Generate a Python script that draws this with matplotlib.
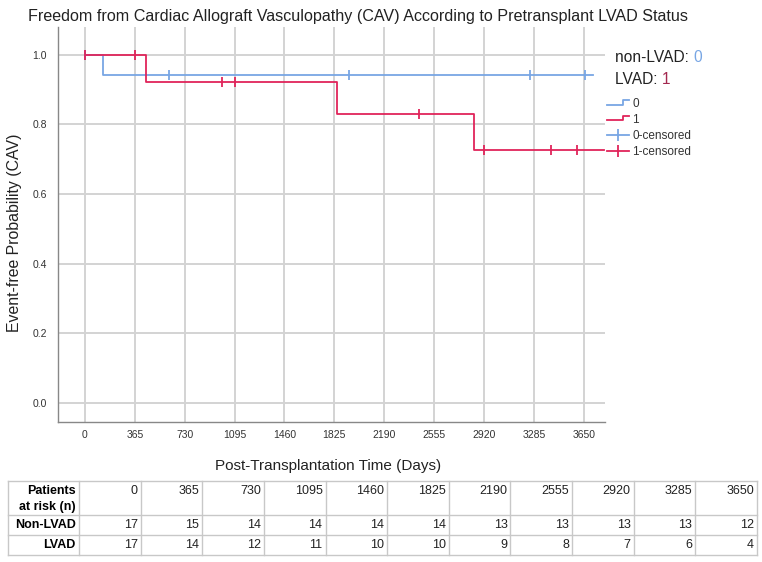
import numpy as np
import matplotlib
matplotlib.use("Agg")
import matplotlib.pyplot as plt
from matplotlib.legend_handler import HandlerBase
from matplotlib.lines import Line2D

plt.rcParams["font.family"] = ["Liberation Sans", "DejaVu Sans"]

# Kaplan-Meier curves (days, survival)
nonlvad_time = [0, 132, 3716]
nonlvad_surv = [1.0, 0.941, 0.941]
nonlvad_cens = [0, 614, 1931, 3255, 3657]

lvad_time = [0, 446, 1843, 2845, 3796]
lvad_surv = [1.0, 0.923, 0.831, 0.727, 0.727]
lvad_cens = [0, 365, 1002, 1097, 2443, 2918, 3409, 3599]

ticks = [0, 365, 730, 1095, 1460, 1825, 2190, 2555, 2920, 3285, 3650]
risk_rows = ["Non-LVAD", "LVAD"]
risk_nonlvad = [17, 15, 14, 14, 14, 14, 13, 13, 13, 13, 12]
risk_lvad = [17, 14, 12, 11, 10, 10, 9, 8, 7, 6, 4]

BLUE = "#78a6e4"
RED = "#e0245a"
GRID = "#d3d3d3"

W, H = 762, 562
fig = plt.figure(figsize=(W / 100, H / 100), dpi=100)


def box(x0, y0, x1, y1):
    # pixel box (from top-left) -> figure fraction rect
    return [x0 / W, 1 - y1 / H, (x1 - x0) / W, (y1 - y0) / H]


def surv_at(times, surv, t):
    i = np.searchsorted(times, t, side="right") - 1
    return np.asarray(surv)[i]


ax = fig.add_axes(box(58, 27, 605, 422))
ax.step(nonlvad_time, nonlvad_surv, where="post", color=BLUE, lw=1.3)
ax.step(lvad_time, lvad_surv, where="post", color=RED, lw=1.3)
ax.plot(nonlvad_cens, surv_at(nonlvad_time, nonlvad_surv, nonlvad_cens),
        ls="none", marker="|", ms=7, mew=1.3, color=BLUE)
ax.plot(lvad_cens, surv_at(lvad_time, lvad_surv, lvad_cens),
        ls="none", marker="|", ms=7, mew=1.3, color=RED)

ax.set_xlim(-197, 3806)
ax.set_ylim(-0.055, 1.08)
ax.set_xticks(ticks)
ax.set_yticks([0.0, 0.2, 0.4, 0.6, 0.8, 1.0])
ax.set_yticklabels(["0.0", "0.2", "0.4", "0.6", "0.8", "1.0"])
ax.grid(True, color=GRID, lw=1.4)
ax.set_axisbelow(True)
ax.tick_params(length=0, labelsize=7.5, colors="#333333")
ax.tick_params(axis="y", pad=8)
ax.tick_params(axis="x", pad=6)
for s in ["top", "right"]:
    ax.spines[s].set_visible(False)
for s in ["left", "bottom"]:
    ax.spines[s].set_color("#888888")
    ax.spines[s].set_linewidth(1.0)

fig.text(15 / W, 1 - 233 / H, "Event-free Probability (CAV)", rotation=90,
         ha="center", va="center", fontsize=11.4, color="#222222")
fig.text(28 / W, 1 - 16 / H,
         "Freedom from Cardiac Allograft Vasculopathy (CAV) According to Pretransplant LVAD Status",
         ha="left", va="center", fontsize=11.6, color="#222222")
fig.text(328 / W, 1 - 466 / H, "Post-Transplantation Time (Days)",
         ha="center", va="center", fontsize=11, color="#222222")

# group header
t1 = fig.text(615 / W, 1 - 58 / H, "non-LVAD: ", ha="left", va="center", fontsize=11.2, color="#222222")
ax.annotate("0", xy=(1, 0), xycoords=t1, va="bottom", ha="left", fontsize=11.2, color=BLUE)
t2 = fig.text(615 / W, 1 - 80 / H, "LVAD: ", ha="left", va="center", fontsize=11.2, color="#222222")
ax.annotate("1", xy=(1, 0), xycoords=t2, va="bottom", ha="left", fontsize=11.2, color="#a3284f")


class StepHandler(HandlerBase):
    def create_artists(self, legend, orig_handle, xdescent, ydescent,
                       width, height, fontsize, trans):
        xs = [0, width * 0.7, width * 0.7, width]
        ys = [height * 0.3, height * 0.3, height * 0.85, height * 0.85]
        ln = Line2D(xs, ys, color=orig_handle.get_color(), lw=1.3, transform=trans)
        return [ln]


h0 = Line2D([], [], color=BLUE)
h1 = Line2D([], [], color=RED)
hc0 = Line2D([], [], color=BLUE, lw=1.3, marker="|", ms=9, mew=1.3)
hc1 = Line2D([], [], color=RED, lw=1.3, marker="|", ms=9, mew=1.3)
fig.legend([h0, h1, hc0, hc1], ["0", "1", "0-censored", "1-censored"],
           handler_map={h0: StepHandler(), h1: StepHandler()},
           loc="upper left", bbox_to_anchor=(607 / W, 1 - 98 / H),
           bbox_transform=fig.transFigure, frameon=False, fontsize=8.5,
           handlelength=1.9, handletextpad=0.25, labelspacing=0.33,
           borderpad=0, borderaxespad=0, labelcolor="#333333")

# patients at risk table
tx0, tx1, ty0, ty1 = 8, 757, 481, 555
tab = fig.add_axes(box(tx0, ty0, tx1, ty1))
tab.set_xlim(0, tx1 - tx0)
tab.set_ylim(ty1 - ty0, 0)
tab.axis("off")
lab_w = 71
col_w = (tx1 - tx0 - lab_w) / len(ticks)
row_edges = [0, 34, 54, 74]
edges_x = [0, lab_w] + [lab_w + col_w * (i + 1) for i in range(len(ticks))]
for y in row_edges:
    tab.plot([0, tx1 - tx0], [y, y], color="#c8c8c8", lw=1.0, clip_on=False)
for x in edges_x:
    tab.plot([x, x], [0, 74], color="#c8c8c8", lw=1.0, clip_on=False)

fs = 9
tab.text(lab_w - 3, 10, "Patients", ha="right", va="center", fontsize=fs, fontweight="bold")
tab.text(lab_w - 3, 26, "at risk (n)", ha="right", va="center", fontsize=fs, fontweight="bold")
for i, t in enumerate(ticks):
    xr = lab_w + col_w * (i + 1) - 3
    tab.text(xr, 10, str(t), ha="right", va="center", fontsize=fs, color="#222222")
for r, (name, vals) in enumerate(zip(risk_rows, [risk_nonlvad, risk_lvad])):
    yc = (row_edges[r + 1] + row_edges[r + 2]) / 2
    tab.text(lab_w - 3, yc, name, ha="right", va="center", fontsize=fs, fontweight="bold")
    for i, v in enumerate(vals):
        xr = lab_w + col_w * (i + 1) - 3
        tab.text(xr, yc, str(v), ha="right", va="center", fontsize=fs, color="#222222")

fig.savefig("out.png", dpi=100)
